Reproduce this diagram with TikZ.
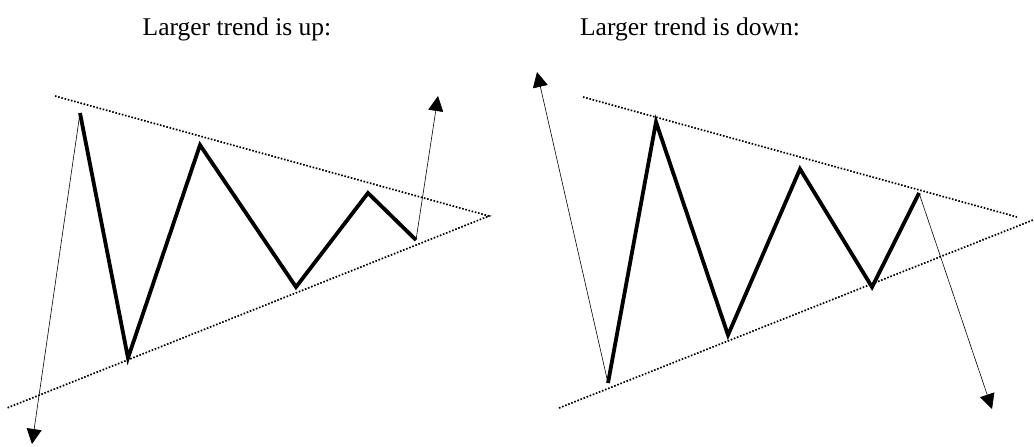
\documentclass[tikz,border=0pt]{standalone}
\usepackage{fontspec}
\setmainfont{Liberation Serif}
\usetikzlibrary{arrows.meta}
\begin{document}
\begin{tikzpicture}[x=1pt,y=-1pt,
  trendline/.style={line width=1.7pt, dash pattern=on 1.6pt off 1.7pt},
  zig/.style={line width=3.8pt, line join=miter},
  breakout/.style={line width=0.6pt, -{Triangle[length=15pt,width=15pt]}},
  title/.style={font=\fontsize{25.5}{30}\selectfont, anchor=base}]
\useasboundingbox (0,0) rectangle (1034,447);
% titles
\node[title] (t1) at (237,35) {Larger trend is up:};
\node[title] (t2) at (690,35) {Larger trend is down:};
% left panel
\coordinate (ua) at (55,96);
\coordinate (apexL) at (489,216);
\coordinate (la) at (7,408);
\coordinate (p1) at (80,113);
\coordinate (p2) at (128,358);
\coordinate (p3) at (200,145);
\coordinate (p4) at (296,287);
\coordinate (p5) at (368,193);
\coordinate (p6) at (416,240);
\coordinate (e1) at (32,444);
\coordinate (e2) at (438,96);
\draw[trendline] (ua) -- (apexL) -- (la);
\draw[zig] (p1) -- (p2) -- (p3) -- (p4) -- (p5) -- (p6);
\draw[breakout] (p1) -- (e1);
\draw[breakout] (p6) -- (e2);
% right panel
\coordinate (ub) at (583,97);
\coordinate (ue) at (1017,217);
\coordinate (lb) at (559,408);
\coordinate (le) at (1033,220);
\coordinate (q1) at (608,383);
\coordinate (q2) at (656,122);
\coordinate (q3) at (728,335);
\coordinate (q4) at (800,169);
\coordinate (q5) at (872,287);
\coordinate (q6) at (919,193);
\coordinate (f1) at (537,72);
\coordinate (f2) at (992,409);
\draw[trendline] (ub) -- (ue);
\draw[trendline] (lb) -- (le);
\draw[zig] (q1) -- (q2) -- (q3) -- (q4) -- (q5) -- (q6);
\draw[breakout] (q1) -- (f1);
\draw[breakout] (q6) -- (f2);
\end{tikzpicture}
\end{document}
